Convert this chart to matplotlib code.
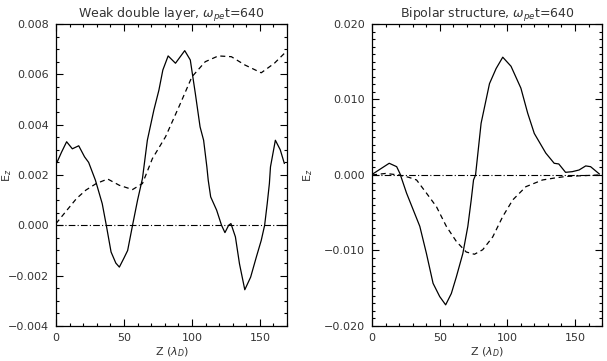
import matplotlib
matplotlib.use('Agg')
import matplotlib.pyplot as plt
from matplotlib.ticker import MultipleLocator, FuncFormatter

# 左图：弱双层，实线 E_z，虚线
z_wdl = [0.7, 4, 7.8, 12, 16.7, 21, 24, 29, 34, 37, 40.5, 44, 46.6, 50, 52.7, 56.3, 60, 63.6,
         67.2, 72, 75.7, 78.6, 82.5, 87.9, 94.7, 98.8, 102.5, 106, 108.6, 111, 112, 113.8,
         118.2, 121.8, 124.3, 127, 128.7, 132, 135, 138.9, 143.2, 147.4, 151, 153.5, 155.4,
         157, 157.8, 161.4, 165, 168]
e_wdl = [0.0025, 0.0029, 0.00332, 0.00304, 0.00316, 0.00272, 0.0025, 0.00179, 0.00086, 0.0,
         -0.00106, -0.0015, -0.00166, -0.0013, -0.001, 0.0, 0.001, 0.00186,
         0.00338, 0.00458, 0.00537, 0.00617, 0.00673, 0.00644, 0.00694, 0.00657, 0.00524,
         0.00391, 0.00338, 0.00232, 0.00179, 0.00113, 0.0006, 0.0, -0.00029, 0.0, 0.00007,
         -0.00046, -0.00153, -0.00256, -0.00206, -0.00126, -0.0006, 0.0, 0.00086, 0.00166,
         0.00232, 0.00338, 0.003, 0.00246]
zd_wdl = [0, 8, 15, 22, 29.6, 38, 46.6, 56.3, 63.6, 70.9, 80.6, 91.5, 100, 109.8, 119.4, 129,
          139, 151, 160.7, 168]
d_wdl = [0.00007, 0.0006, 0.00106, 0.0014, 0.00166, 0.00184, 0.00159, 0.00142, 0.00166,
         0.00265, 0.00352, 0.00484, 0.0059, 0.0065, 0.00673, 0.0067, 0.00637, 0.00606,
         0.00644, 0.00683]

# 右图：双极结构
z_bip = [0.5, 7.1, 12.7, 18.2, 20.6, 25.5, 30.4, 35.3, 40.2, 45.1, 50, 54.4, 58.6, 62.3,
         67.1, 70.8, 73.3, 75, 76.5, 80.6, 86.8, 91.7, 96.6, 102.7, 110, 115, 119.9, 123.5,
         128.4, 134.6, 138, 143, 148, 153, 157.9, 161.5, 168]
e_bip = [0.00013, 0.0009, 0.00155, 0.0011, 0.0002, -0.0024, -0.0046, -0.0068, -0.0104,
         -0.01435, -0.0161, -0.0172, -0.0157, -0.0135, -0.0104, -0.0068, -0.0033, -0.00066,
         0.0, 0.00685, 0.0121, 0.0141, 0.0156, 0.0144, 0.0115, 0.0082, 0.0055, 0.0044,
         0.0029, 0.00155, 0.00146, 0.00035, 0.00044, 0.00066, 0.0012, 0.0011, 0.00013]
zd_bip = [0, 10, 20, 27, 32.9, 40.2, 47.6, 54.9, 62.3, 69.6, 75.7, 81.8, 89.2, 96.6, 104,
          113.7, 126, 135, 143, 155, 168]
d_bip = [0.0, 0.0002, 0.0, -0.0003, -0.00066, -0.0024, -0.0042, -0.0068, -0.0088, -0.0102,
         -0.0105, -0.0099, -0.0082, -0.0055, -0.0033, -0.00155, -0.00066, -0.0004, -0.0002,
         -0.0001, 0.0]

titles = ['Weak double layer, $\\omega_{pe}$t=640', 'Bipolar structure, $\\omega_{pe}$t=640']
ylims = [(-0.004, 0.008), (-0.020, 0.020)]
ymajor = [0.002, 0.010]
yminor = [0.0005, 0.001]
ylab_x = [-0.182, -0.25]

plt.rcParams['font.family'] = ['DejaVu Sans']
fig = plt.figure(figsize=(6.07, 3.61), dpi=100)
ax1 = fig.add_axes([0.0923, 0.097, 0.3806, 0.8366])
ax2 = fig.add_axes([0.6129, 0.097, 0.379, 0.8366])

fmt = FuncFormatter(lambda v, p: ('%.3f' % v).replace('-', '\u2212'))
txt = '#333333'

for i, (ax, z, e, zd, d) in enumerate([(ax1, z_wdl, e_wdl, zd_wdl, d_wdl),
                                       (ax2, z_bip, e_bip, zd_bip, d_bip)]):
    ax.plot(z, e, color='black', linewidth=0.9)
    ax.plot(zd, d, color='black', linewidth=0.9, linestyle=(0, (4, 3)))
    ax.axhline(0, color='black', linewidth=0.8, linestyle=(0, (6, 2, 1, 2)))
    ax.set_xlim(0, 170)
    ax.set_ylim(*ylims[i])
    ax.xaxis.set_major_locator(MultipleLocator(50))
    ax.xaxis.set_minor_locator(MultipleLocator(10))
    ax.yaxis.set_major_locator(MultipleLocator(ymajor[i]))
    ax.yaxis.set_minor_locator(MultipleLocator(yminor[i]))
    ax.yaxis.set_major_formatter(fmt)
    ax.tick_params(which='both', direction='in', top=True, right=True,
                   labelsize=8, labelcolor=txt, width=0.8)
    ax.tick_params(which='major', length=5, pad=5)
    ax.tick_params(which='minor', length=2.5)
    for s in ax.spines.values():
        s.set_linewidth(0.9)
    ax.set_title(titles[i], fontsize=9, color=txt, pad=3)
    ax.set_xlabel('Z ($\\lambda_D$)', fontsize=8, color=txt, labelpad=2)
    ax.set_ylabel('E$_z$', fontsize=8, color=txt)
    ax.yaxis.set_label_coords(ylab_x[i], 0.5)

fig.savefig('out.png', dpi=100, facecolor='white')
